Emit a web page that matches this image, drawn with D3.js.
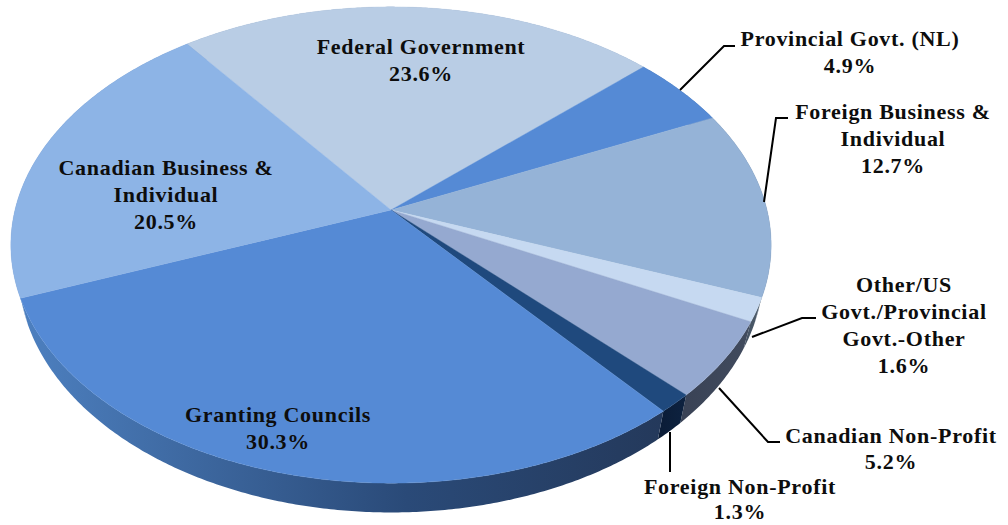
<!DOCTYPE html>
<html>
<head>
<meta charset="utf-8">
<script src="https://d3js.org/d3.v7.min.js"></script>
<style>
  html, body { margin: 0; background: #fff; }
  text { font-family: "Liberation Serif", serif; font-weight: bold; font-size: 22px; letter-spacing: 0.7px; fill: #0d0d0d; text-anchor: middle; }
</style>
</head>
<body>
<div id="my_dataviz"></div>
<script>

// slice values, clockwise, starting from Federal Government
var names = ["Federal Government", "Provincial Govt. (NL)", "Foreign Business & Individual",
  "Other/US Govt./Provincial Govt.-Other", "Canadian Non-Profit", "Foreign Non-Profit",
  "Granting Councils", "Canadian Business & Individual"];
var values = [23.6, 4.9, 12.7, 1.6, 5.2, 1.3, 30.3, 20.5];

// top face and side wall colours (wall is left/right ends of a gradient)
var faceColors = ["#b9cde5", "#558ad5", "#95b3d7", "#c6d9f1", "#95a9d0", "#1f497d", "#558ad5", "#8db4e6"];
var wallLeft = ["#8aa0bc", "#3f6aa5", "#6f8198", "#465464", "#3a4356", "#0b1d38", "#4d80c0", "#6f94c4"];
var wallRight = ["#8aa0bc", "#3f6aa5", "#5c6f86", "#55626f", "#414b5e", "#0d2240", "#24395b", "#6f94c4"];

// label lines and where they sit: centre x, first baseline, line gap
var labelLines = [
  ["Federal Government", "23.6%"],
  ["Provincial Govt. (NL)", "4.9%"],
  ["Foreign Business &", "Individual", "12.7%"],
  ["Other/US", "Govt./Provincial", "Govt.-Other", "1.6%"],
  ["Canadian Non-Profit", "5.2%"],
  ["Foreign Non-Profit", "1.3%"],
  ["Granting Councils", "30.3%"],
  ["Canadian Business &", "Individual", "20.5%"]
];
var labelX = [421, 850, 893, 904, 891, 740, 278, 166];
var labelY = [54, 46, 119, 292, 443, 494, 422, 175];
var lineGap = [27, 27, 27, 27, 26, 25, 27, 27];

// leader lines
var leaders = [
  [[680, 90], [724, 46], [735, 46]],
  [[764, 202], [776, 118], [788, 118]],
  [[752, 337], [802, 318], [816, 318]],
  [[719, 388], [768, 442], [780, 442]],
  [[670, 432], [670, 472]]
];

var width = 1008, height = 525;

// the pie is seen in perspective, so the unit circle goes through a small projection
var cx = 391, cy = 210, A = 376, B = 233, k = 0.147, depth = 25, shrink = 0.98;
function project(angle, drop) {
  var X = Math.sin(angle), Y = -Math.cos(angle), w = 1 - k * Y;
  var s = drop ? shrink : 1;
  return [cx + s * A * X / w, cy + B * Y / w + drop / w];
}

var svg = d3.select("#my_dataviz")
  .append("svg")
    .attr("width", width)
    .attr("height", height)
    .style("display", "block");

var defs = svg.append("defs");

var pieData = d3.pie()
  .sort(null)
  .startAngle(-37.3 * Math.PI / 180)
  .endAngle((360 - 37.3) * Math.PI / 180)
  (values);

function rim(d, drop) {
  var n = Math.max(2, Math.ceil((d.endAngle - d.startAngle) * 120));
  return d3.range(n + 1).map(function(i) {
    return project(d.startAngle + (d.endAngle - d.startAngle) * i / n, drop);
  });
}

var line = d3.line();

// walls first, the top faces then cover whatever is at the back
pieData.forEach(function(d, i) {
  var top = rim(d, 0), bottom = rim(d, depth);
  var x0 = d3.min(top, function(p) { return p[0]; });
  var x1 = d3.max(top, function(p) { return p[0]; });
  var grad = defs.append("linearGradient")
    .attr("id", "wall" + i)
    .attr("gradientUnits", "userSpaceOnUse")
    .attr("x1", x0).attr("x2", x1).attr("y1", 0).attr("y2", 0);
  grad.append("stop").attr("offset", 0).attr("stop-color", wallLeft[i]);
  if (i == 6) grad.append("stop").attr("offset", 0.6).attr("stop-color", "#2a4a78");
  grad.append("stop").attr("offset", 1).attr("stop-color", wallRight[i]);

  svg.append("path")
    .attr("d", line(top.concat(bottom.reverse())) + "Z")
    .attr("fill", "url(#wall" + i + ")");
});

svg.selectAll(".face")
  .data(pieData)
  .enter()
  .append("path")
    .attr("class", "face")
    .attr("d", function(d) { return line([[cx, cy]].concat(rim(d, 0))) + "Z"; })
    .attr("fill", function(d, i) { return faceColors[i]; })
    .attr("stroke", function(d, i) { return faceColors[i]; })
    .attr("stroke-width", 0.4);

// leader lines
svg.selectAll(".leader")
  .data(leaders)
  .enter()
  .append("path")
    .attr("class", "leader")
    .attr("d", line)
    .attr("fill", "none")
    .attr("stroke", "#000")
    .attr("stroke-width", 2);

// labels
labelLines.forEach(function(lines, i) {
  var t = svg.append("text").attr("aria-label", names[i]);
  lines.forEach(function(s, j) {
    t.append("tspan")
      .attr("x", labelX[i])
      .attr("y", labelY[i] + j * lineGap[i])
      .text(s);
  });
});

</script>
</body>
</html>
